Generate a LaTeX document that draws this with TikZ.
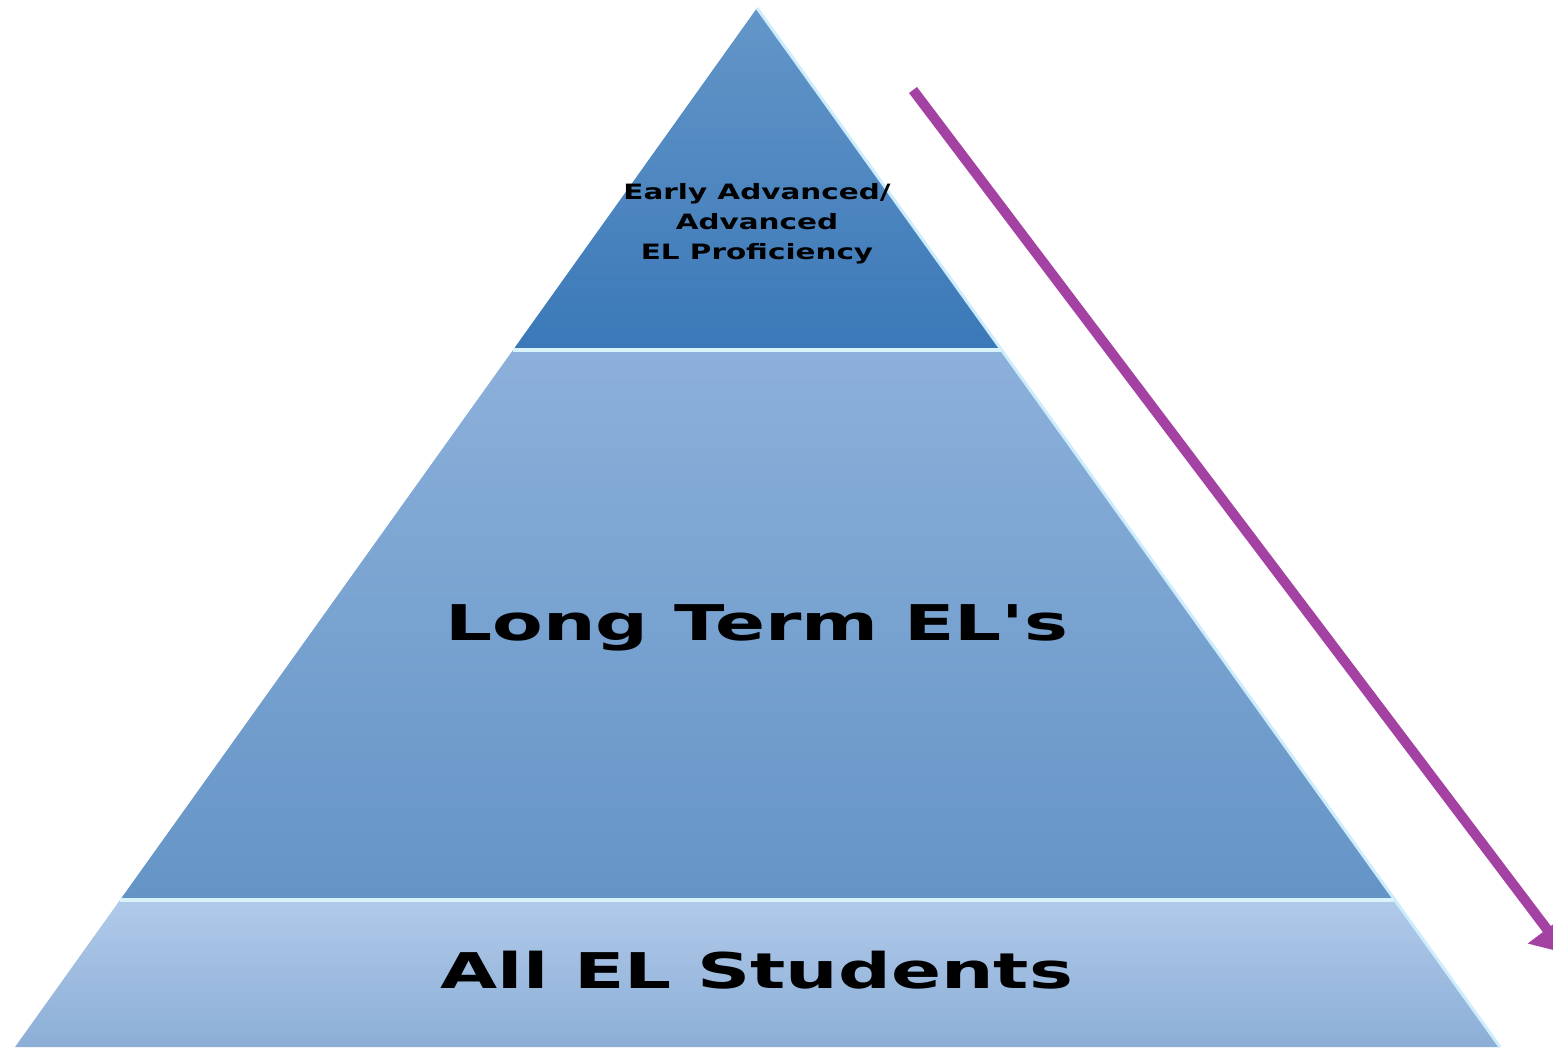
\documentclass[tikz,border=0pt]{standalone}
\usepackage{fontspec}
\setmainfont{DejaVu Sans}
\usetikzlibrary{arrows.meta}
\definecolor{topA}{RGB}{100,150,200}
\definecolor{topB}{RGB}{58,120,184}
\definecolor{midA}{RGB}{140,176,218}
\definecolor{midB}{RGB}{100,148,198}
\definecolor{lowA}{RGB}{176,202,234}
\definecolor{lowB}{RGB}{140,174,214}
\definecolor{elpurple}{RGB}{164,66,164}
\definecolor{rim}{RGB}{205,236,252}

\begin{document}
\begin{tikzpicture}[x=0.01cm,y=-0.01cm,
    band/.style={draw=none},
    seam/.style={line width=0.04cm,white!85!cyan},
    edge/.style={line width=0.03cm,rim},
    label/.style={font=\bfseries,text=black,align=center,inner sep=0pt,xscale=1.5}]
    \useasboundingbox (0,0) rectangle (1553,1047);
    % Corners of the pyramid and its bands
    \coordinate (Z)  at (757,8);    % Top
    \coordinate (ML) at (513,350);  % Upper left
    \coordinate (MR) at (1001,350); % Upper right
    \coordinate (LL) at (120,900);  % Lower left
    \coordinate (LR) at (1394,900); % Lower right
    \coordinate (BL) at (15,1047);  % Bottom left
    \coordinate (BR) at (1500,1047);% Bottom right
    \shade[band,top color=lowA,bottom color=lowB] (LL) -- (LR) -- (BR) -- (BL) -- cycle;
    \shade[band,top color=midA,bottom color=midB] (ML) -- (MR) -- (LR) -- (LL) -- cycle;
    \shade[band,top color=topA,bottom color=topB] (Z) -- (MR) -- (ML) -- cycle;
    \draw[edge] (Z) -- (BR);
    \draw[seam] (ML) -- (MR);
    \draw[seam] (LL) -- (LR);
    % Labels
    \node[label,font=\bfseries\fontsize{6}{8.5}\selectfont,xscale=0.93] (top) at (757,224)
        {Early Advanced/\\Advanced\\EL Proficiency};
    \node[label,font=\bfseries\fontsize{14}{14}\selectfont,anchor=base] (mid) at (757,640)
        {Long Term EL\textquotesingle s};
    \node[label,font=\bfseries\fontsize{14}{14}\selectfont,anchor=base] (low) at (757,988)
        {All EL Students};
    % Arrow down the right side (tip runs off the page)
    \coordinate (AS) at (913,90);
    \coordinate (AE) at (1565,953);
    \draw[elpurple,line width=0.1cm,-{Triangle[length=0.3cm,width=0.46cm]}] (AS) -- (AE);
\end{tikzpicture}
\end{document}
